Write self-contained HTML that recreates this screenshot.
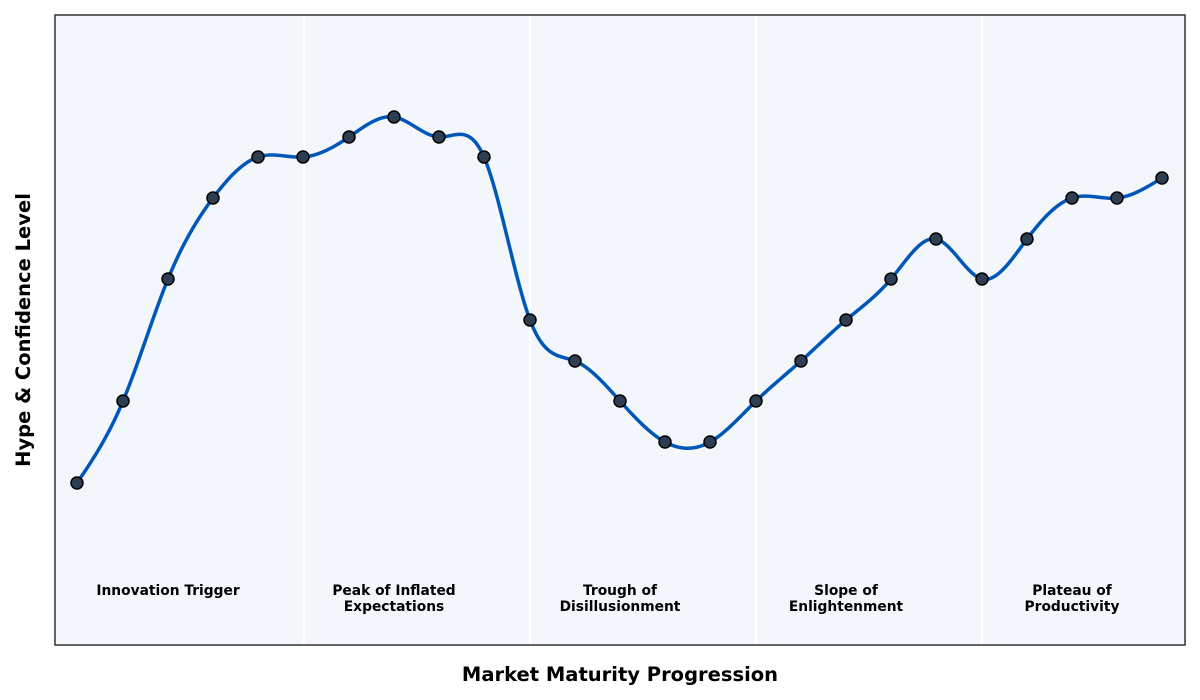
<!DOCTYPE html>
<html><head><meta charset="utf-8"><style>
html,body{margin:0;padding:0;background:#fff;}
svg{display:block;font-family:"DejaVu Sans","Liberation Sans",sans-serif;}
</style></head><body>
<svg id="s" width="1200" height="700" viewBox="0 0 1200 700" xmlns="http://www.w3.org/2000/svg">
<rect x="0" y="0" width="1200" height="700" fill="#ffffff"/>
<rect x="55" y="15" width="1130" height="630" fill="#f3f6fa"/>
<g stroke="#ffffff" stroke-width="2.5">
<line x1="304" y1="15" x2="304" y2="645"/>
<line x1="530" y1="15" x2="530" y2="645"/>
<line x1="756" y1="15" x2="756" y2="645"/>
<line x1="982" y1="15" x2="982" y2="645"/>
</g>
<path id="curve" d="" fill="none" stroke="#0057b7" stroke-width="3.5" stroke-linejoin="round"/>
<g id="pts" fill="#2d3e52" stroke="#000" stroke-width="1.5"></g>
<g font-size="13.8" font-weight="bold" text-anchor="middle" fill="#000">
<text x="168" y="595">Innovation Trigger</text>
<text x="394" y="595">Peak of Inflated</text><text x="394" y="611">Expectations</text>
<text x="620" y="595">Trough of</text><text x="620" y="611">Disillusionment</text>
<text x="846" y="595">Slope of</text><text x="846" y="611">Enlightenment</text>
<text x="1072" y="595">Plateau of</text><text x="1072" y="611">Productivity</text>
</g>
<rect x="55" y="15" width="1130" height="630" fill="none" stroke="#333" stroke-width="1.5"/>
<text x="620" y="681" font-size="19.5" font-weight="bold" text-anchor="middle">Market Maturity Progression</text>
<text transform="translate(30,330) rotate(-90)" font-size="19.5" font-weight="bold" text-anchor="middle">Hype &amp; Confidence Level</text>
</svg>
<script>
var P=[[77,483],[123,401],[168,279],[213,198],[258,157],[303,157],[349,137],[394,117],[439,137],[484,157],[530,320],[575,361],[620,401],[665,442],[710,442],[756,401],[801,361],[846,320],[891,279],[936,239],[982,279],[1027,239],[1072,198],[1117,198],[1162,178]];
var n=P.length,x=P.map(p=>p[0]),y=P.map(p=>p[1]);
var h=[],a=[],l=[1],mu=[0],z=[0],c=new Array(n).fill(0),b=[],d=[];
for(var i=0;i<n-1;i++)h[i]=x[i+1]-x[i];
for(i=1;i<n-1;i++)a[i]=3/h[i]*(y[i+1]-y[i])-3/h[i-1]*(y[i]-y[i-1]);
for(i=1;i<n-1;i++){l[i]=2*(x[i+1]-x[i-1])-h[i-1]*mu[i-1];mu[i]=h[i]/l[i];z[i]=(a[i]-h[i-1]*z[i-1])/l[i];}
l[n-1]=1;z[n-1]=0;c[n-1]=0;
for(var j=n-2;j>=0;j--){c[j]=z[j]-mu[j]*c[j+1];b[j]=(y[j+1]-y[j])/h[j]-h[j]*(c[j+1]+2*c[j])/3;d[j]=(c[j+1]-c[j])/(3*h[j]);}
var s="M"+x[0]+","+y[0];
for(i=0;i<n-1;i++){for(var k=1;k<=20;k++){var t=h[i]*k/20;s+=" L"+(x[i]+t).toFixed(2)+","+(y[i]+b[i]*t+c[i]*t*t+d[i]*t*t*t).toFixed(2);}}
document.getElementById("curve").setAttribute("d",s);
var g=document.getElementById("pts");
P.forEach(function(p){var e=document.createElementNS("http://www.w3.org/2000/svg","circle");e.setAttribute("cx",p[0]);e.setAttribute("cy",p[1]);e.setAttribute("r",6);g.appendChild(e);});
</script>
</body></html>
